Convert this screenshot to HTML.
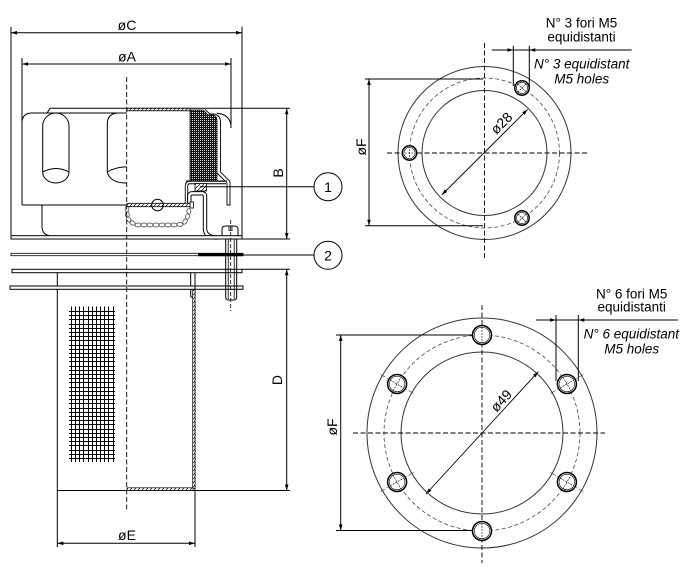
<!DOCTYPE html>
<html><head><meta charset="utf-8">
<style>
html,body{margin:0;padding:0;background:#fff;}
svg{display:block;}
text{font-family:"Liberation Sans",Arial,sans-serif;fill:#000;}
</style></head><body>
<svg width="686" height="568" viewBox="0 0 686 568" xmlns="http://www.w3.org/2000/svg">
<defs>
<pattern id="h" patternUnits="userSpaceOnUse" width="4" height="4"><rect width="4" height="4" fill="#fff"/><path d="M-1,5 L5,-1" stroke="#000" stroke-width="0.7"/></pattern>
<pattern id="m" patternUnits="userSpaceOnUse" width="2" height="2"><rect width="2" height="2" fill="#111"/><rect width="1" height="1" fill="#ddd"/></pattern>
<marker id="ar" viewBox="0 0 10 6" refX="10" refY="3" markerWidth="6" markerHeight="3.6" markerUnits="userSpaceOnUse" orient="auto-start-reverse"><path d="M0,0 L10,3 L0,6 z" fill="#000"/></marker>
</defs>

<g fill="none" stroke="#000" stroke-width="1">
<!-- ===== LEFT VIEW: dimensions ===== -->
<line x1="11" y1="32.7" x2="242" y2="32.7" marker-start="url(#ar)" marker-end="url(#ar)"/>
<line x1="22" y1="64" x2="231" y2="64" marker-start="url(#ar)" marker-end="url(#ar)"/>
<line x1="286.7" y1="108.3" x2="286.7" y2="239" marker-start="url(#ar)" marker-end="url(#ar)"/>
<line x1="286.7" y1="269.3" x2="286.7" y2="490.5" marker-start="url(#ar)" marker-end="url(#ar)"/>
<line x1="57.3" y1="543.3" x2="195" y2="543.3" marker-start="url(#ar)" marker-end="url(#ar)"/>
<!-- extension lines -->
<line x1="11" y1="26.7" x2="11" y2="239"/>
<line x1="242" y1="26.7" x2="242" y2="239"/>
<line x1="22" y1="58" x2="22" y2="205"/>
<line x1="231" y1="58" x2="231" y2="128"/>
<line x1="50" y1="108.3" x2="290" y2="108.3"/>
<line x1="242" y1="239" x2="290" y2="239"/>
<line x1="242" y1="269.3" x2="290" y2="269.3"/>
<line x1="57.3" y1="490.5" x2="290" y2="490.5"/>
<line x1="57.3" y1="490" x2="57.3" y2="547"/>
<line x1="195" y1="490" x2="195" y2="547"/>

<!-- upper body -->
<path d="M22,205 L22,123 Q22,113 32,113 L127,113"/>
<path d="M47,113 L50,108.3"/>
<line x1="22" y1="205" x2="127" y2="205"/>
<path d="M42.7,126 A13.15,13 0 0 1 69,126 L69,172 A13.15,11 0 0 1 42.7,172 Z"/>
<path d="M42.7,172 Q56,165 69,172"/>
<path d="M126.7,113 L119,113 Q107.3,113 107.3,124 L107.3,172 Q110,183 126.7,183"/>
<path d="M107.3,172 Q115,167 126.7,166.7"/>
<path d="M42,205 L42,226 Q42,235 50,235.7"/>
<path d="M216.7,113.3 Q229,114 231,125"/>

<!-- cup section -->
<rect x="127" y="108.3" width="63" height="2.5" fill="url(#h)" stroke-width="0.8"/>
<path d="M190,110 L203,110 L208,115 L213,115 Q217,116 217,121 L217,181 L190,181 Z" fill="url(#m)" stroke-width="0.8"/>
<path d="M205,109.5 L210,114 L214,114 Q220.5,115.5 220.5,122 L220.5,172 L230,181.5 L230,205 L227,205 L227,183 L217.5,173.5" stroke-width="0.9"/>
<line x1="186" y1="181" x2="227" y2="181"/>
<path d="M186.5,203 L186.5,186 Q186.5,182.5 190,182.5 L226,182.5" stroke-width="3.4"/>
<path d="M186.5,203 L186.5,186 Q186.5,182.5 190,182.5 L226,182.5" stroke="#fff" stroke-width="1.6"/>
<rect x="195" y="183.5" width="11.5" height="7.5" fill="url(#h)" stroke-width="0.8"/>
<!-- pipe -->
<path d="M189.3,203 L189.3,196 Q189.3,193.3 192,193.3 L202,193.3 Q205,193.3 205,196 L205,229 Q205.5,237.5 217,237.5" stroke-width="4.4"/>
<path d="M189.3,203 L189.3,196 Q189.3,193.3 192,193.3 L202,193.3 Q205,193.3 205,196 L205,229 Q205.5,237.5 217,237.5" stroke="#fff" stroke-width="2.4"/>
<!-- tray -->
<rect x="127" y="203.3" width="64" height="3.4" fill="url(#h)" stroke-width="0.8"/>
<rect x="190" y="202" width="3.5" height="6" fill="#fff" stroke-width="0.8"/>
<circle cx="157.5" cy="205" r="5.8" fill="none"/>
<!-- chain -->
<g stroke="#444" stroke-width="0.8">
<ellipse cx="127" cy="209" rx="1.9" ry="2.9"/>
<ellipse cx="127.3" cy="214.5" rx="1.9" ry="2.9"/>
<ellipse cx="128.8" cy="219.5" rx="1.9" ry="2.9" transform="rotate(-30 128.8 219.5)"/>
<ellipse cx="132.5" cy="223" rx="1.9" ry="2.9" transform="rotate(-60 132.5 223)"/>
<ellipse cx="138" cy="225" rx="3" ry="2"/>
<ellipse cx="144" cy="225" rx="3" ry="2"/>
<ellipse cx="150" cy="225" rx="3" ry="2"/>
<ellipse cx="156" cy="225" rx="3" ry="2"/>
<ellipse cx="162" cy="225" rx="3" ry="2"/>
<ellipse cx="168" cy="225" rx="3" ry="2"/>
<ellipse cx="174" cy="225" rx="3" ry="2"/>
<ellipse cx="180" cy="224.5" rx="3" ry="2"/>
<ellipse cx="185" cy="221.5" rx="1.9" ry="2.9" transform="rotate(35 185 221.5)"/>
<ellipse cx="187.5" cy="216.5" rx="1.9" ry="2.9" transform="rotate(15 187.5 216.5)"/>
<ellipse cx="188.8" cy="211.5" rx="1.9" ry="2.9"/>
</g>
<!-- screw head -->
<path d="M222,236 L222,229 Q222,226 226,226 L234,226 Q238,226 238,229 L238,236 Z" fill="#fff"/>
<rect x="229" y="226" width="3" height="4.5" fill="#fff" stroke-width="0.8"/>
<!-- bottom plate -->
<rect x="11" y="235.7" width="231" height="3.3" fill="#fff"/>

<!-- gasket -->
<rect x="11" y="253.3" width="232" height="2.4" fill="#fff" stroke-width="0.8"/>
<rect x="198" y="253" width="45" height="3.2" fill="#000" stroke="none"/>
<!-- flanges -->
<rect x="12" y="269.3" width="230" height="3.4" fill="#fff"/>
<rect x="10" y="286" width="233" height="3.3" fill="#fff"/>
<!-- screw shaft -->
<path d="M225.7,239 L225.7,297 Q225.7,300 228.5,300 L234,300 Q236.7,300 236.7,297 L236.7,239" fill="none"/>
<line x1="228.2" y1="239" x2="228.2" y2="299" stroke-width="0.8"/>
<line x1="234.2" y1="239" x2="234.2" y2="299" stroke-width="0.8"/>
<line x1="230.7" y1="220" x2="230.7" y2="311" stroke-dasharray="4 2" stroke-width="0.8"/>

<!-- filter -->
<line x1="57.3" y1="272.7" x2="57.3" y2="286"/>
<line x1="57.3" y1="289.3" x2="57.3" y2="490.5"/>
<line x1="190.7" y1="272.7" x2="190.7" y2="286"/>
<line x1="190.7" y1="289.3" x2="190.7" y2="297"/>
<line x1="190.7" y1="297" x2="192.7" y2="297"/>
<line x1="195" y1="272.7" x2="195" y2="490.5"/>
<rect x="192.7" y="289.3" width="2.3" height="199" fill="url(#h)" stroke-width="0.7"/>
<rect x="127" y="487.8" width="66" height="2.7" fill="url(#h)" stroke-width="0.7"/>
<!-- mesh -->
<g stroke-width="1" shape-rendering="crispEdges">
<path d="M71.5,306.5V462 M75.5,306.5V462 M79.5,306.5V462 M83.5,306.5V462 M88.5,306.5V462 M92.5,306.5V462 M96.5,306.5V462 M100.5,306.5V462 M104.5,306.5V462 M108.5,306.5V462 M113.5,306.5V462"/>
<path d="M69,311.5H115 M69,315.5H115 M69,319.5H115 M69,324.5H115 M69,328.5H115 M69,332.5H115 M69,336.5H115 M69,340.5H115 M69,345.5H115 M69,349.5H115 M69,353.5H115 M69,357.5H115 M69,361.5H115 M69,366.5H115 M69,370.5H115 M69,374.5H115 M69,378.5H115 M69,382.5H115 M69,387.5H115 M69,391.5H115 M69,395.5H115 M69,399.5H115 M69,403.5H115 M69,408.5H115 M69,412.5H115 M69,416.5H115 M69,420.5H115 M69,424.5H115 M69,429.5H115 M69,433.5H115 M69,437.5H115 M69,441.5H115 M69,445.5H115 M69,450.5H115 M69,454.5H115 M69,458.5H115"/>
</g>
<!-- centerline -->
<line x1="126.7" y1="77" x2="126.7" y2="512" stroke-dasharray="5 2.5" stroke-width="0.9"/>

<!-- callouts 1,2 -->
<line x1="200" y1="186.7" x2="314" y2="186.7"/>
<circle cx="328" cy="186.7" r="14"/>
<line x1="243" y1="255" x2="314" y2="255"/>
<circle cx="328" cy="255.3" r="14"/>

<!-- ===== TOP-RIGHT VIEW ===== -->
<circle cx="484.5" cy="153" r="86.5" stroke="#333"/>
<circle cx="484.5" cy="153" r="62.5" stroke="#333"/>
<circle cx="484.5" cy="153" r="75" stroke="#444" stroke-width="0.8" stroke-dasharray="4 2.5"/>
<line x1="387" y1="153" x2="587" y2="153" stroke-dasharray="5 2.5" stroke-width="0.9"/>
<line x1="484.5" y1="43" x2="484.5" y2="260" stroke-dasharray="5 2.5" stroke-width="0.9"/>
<g fill="#fff">
<circle cx="409.5" cy="153" r="7.2" stroke-width="1.5"/>
<circle cx="522" cy="88" r="7.2" stroke-width="1.5"/>
<circle cx="522" cy="218" r="7.2" stroke-width="1.5"/>
</g>
<g stroke-width="0.6">
<circle cx="409.5" cy="153" r="5.6"/>
<circle cx="522" cy="88" r="5.6"/>
<circle cx="522" cy="218" r="5.6"/>
<path d="M405,153H414 M409.5,149V157 M518,84L526,92 M518,92L526,84 M518,214L526,222 M518,222L526,214" stroke-dasharray="2 1"/>
</g>
<line x1="369" y1="79" x2="369" y2="225.7" marker-start="url(#ar)" marker-end="url(#ar)"/>
<line x1="365" y1="79" x2="483" y2="79"/>
<line x1="365" y1="225.7" x2="483" y2="225.7"/>
<line x1="441.7" y1="195" x2="527.7" y2="109.3" marker-start="url(#ar)" marker-end="url(#ar)" stroke-width="0.9"/>
<line x1="491.7" y1="50" x2="631.7" y2="50"/>
<line x1="498" y1="50" x2="513.3" y2="50" marker-end="url(#ar)"/>
<line x1="545" y1="50" x2="529.3" y2="50" marker-end="url(#ar)"/>
<line x1="513.3" y1="45.7" x2="513.3" y2="86"/>
<line x1="529.3" y1="45.7" x2="529.3" y2="86"/>

<!-- ===== BOTTOM-RIGHT VIEW ===== -->
<circle cx="482" cy="433" r="115" stroke="#333"/>
<circle cx="482" cy="433" r="81" stroke="#333"/>
<circle cx="482" cy="433" r="98" stroke="#444" stroke-width="0.8" stroke-dasharray="4 2.5"/>
<line x1="353" y1="433" x2="605" y2="433" stroke-dasharray="5 2.5" stroke-width="0.9"/>
<line x1="482" y1="305" x2="482" y2="563" stroke-dasharray="5 2.5" stroke-width="0.9"/>
<g stroke-width="0.7" stroke-dasharray="6 2 1 2" stroke="#333">
<line x1="413.6" y1="393.5" x2="380.7" y2="374.5"/>
<line x1="550.4" y1="393.5" x2="583.3" y2="374.5"/>
<line x1="413.6" y1="472.5" x2="380.7" y2="491.5"/>
<line x1="550.4" y1="472.5" x2="583.3" y2="491.5"/>
</g>
<g fill="#fff">
<circle cx="482" cy="335" r="9.5" stroke-width="1.5"/>
<circle cx="482" cy="531" r="9.5" stroke-width="1.5"/>
<circle cx="397.1" cy="384" r="9.5" stroke-width="1.5"/>
<circle cx="566.9" cy="384" r="9.5" stroke-width="1.5"/>
<circle cx="397.1" cy="482" r="9.5" stroke-width="1.5"/>
<circle cx="566.9" cy="482" r="9.5" stroke-width="1.5"/>
</g>
<g stroke-width="0.6">
<circle cx="482" cy="335" r="7.8"/>
<circle cx="482" cy="531" r="7.8"/>
<circle cx="397.1" cy="384" r="7.8"/>
<circle cx="566.9" cy="384" r="7.8"/>
<circle cx="397.1" cy="482" r="7.8"/>
<circle cx="566.9" cy="482" r="7.8"/>
<path d="M482,327V343 M482,523V539 M390,380L404,388 M393,391L401,377 M560,388L574,380 M563,377L571,391 M390,486L404,478 M393,475L401,489 M560,478L574,486 M563,489L571,475" stroke-dasharray="2 1"/>
</g>
<line x1="340.7" y1="335" x2="340.7" y2="530.5" marker-start="url(#ar)" marker-end="url(#ar)"/>
<line x1="336" y1="335" x2="473" y2="335"/>
<line x1="336" y1="530.5" x2="473" y2="530.5"/>
<line x1="426" y1="494" x2="538.3" y2="371.7" marker-start="url(#ar)" marker-end="url(#ar)" stroke-width="0.9"/>
<line x1="536" y1="320" x2="678" y2="320"/>
<line x1="541" y1="320" x2="556" y2="320" marker-end="url(#ar)"/>
<line x1="593" y1="320" x2="578.3" y2="320" marker-end="url(#ar)"/>
<line x1="556" y1="315" x2="556" y2="381"/>
<line x1="578.3" y1="315" x2="578.3" y2="381"/>
</g>

<!-- ===== TEXT ===== -->
<g font-size="14">
<text x="127" y="30" text-anchor="middle">øC</text>
<text x="127" y="61.7" text-anchor="middle">øA</text>
<text x="127" y="540" text-anchor="middle">øE</text>
<text transform="translate(283,173) rotate(-90)" text-anchor="middle">B</text>
<text transform="translate(282,380) rotate(-90)" text-anchor="middle">D</text>
<text transform="translate(366,147) rotate(-90)" text-anchor="middle">øF</text>
<text transform="translate(337,427) rotate(-90)" text-anchor="middle">øF</text>
<text transform="translate(507,128.7) rotate(-45)" text-anchor="middle" y="-3">ø28</text>
<text transform="translate(507,406) rotate(-47.4)" text-anchor="middle" y="-3">ø49</text>
<text x="328" y="191.8" text-anchor="middle">1</text>
<text x="328" y="260.4" text-anchor="middle">2</text>
</g>
<g font-size="13.5" text-anchor="middle">
<text x="581.5" y="27.3">N° 3 fori M5</text>
<text x="581.5" y="41.7">equidistanti</text>
<text x="581.7" y="68.3" font-style="italic">N° 3 equidistant</text>
<text x="581.7" y="83.3" font-style="italic">M5 holes</text>
<text x="631.7" y="298.3">N° 6 fori M5</text>
<text x="631.7" y="311.7">equidistanti</text>
<text x="631.3" y="338.3" font-style="italic">N° 6 equidistant</text>
<text x="631.7" y="353.3" font-style="italic">M5 holes</text>
</g>
</svg>
</body></html>
